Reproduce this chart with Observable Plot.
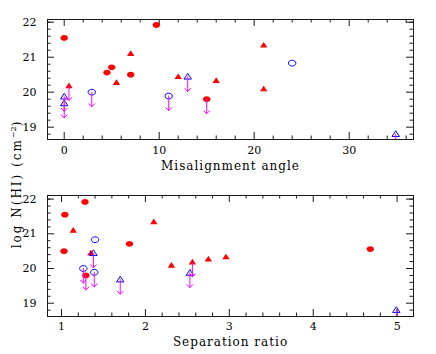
<!DOCTYPE html>
<html><head><meta charset="utf-8">
<script src="https://cdn.jsdelivr.net/npm/d3@7"></script>
<script src="https://cdn.jsdelivr.net/npm/@observablehq/plot@0.6"></script>
<style>
body{margin:0;background:#fff}
#wrap{position:relative;width:436px;height:354px;font-family:"DejaVu Serif",serif;overflow:hidden}
#wrap svg{display:block}
#wrap g[aria-label="text"]{letter-spacing:1px}
#ylab{position:absolute;left:17px;top:184px;transform:translate(-50%,-50%) rotate(-90deg);white-space:nowrap;font:12px "DejaVu Serif",serif;letter-spacing:2px;line-height:1;color:#000}
#ylab sup{font-size:8px;vertical-align:5px;line-height:0;letter-spacing:0}
</style></head><body>
<div id="wrap"><div id="ylab">log N(HI) (cm<sup>−2</sup>)</div></div>
<script>
// ---- data (one entry per object) ----
const misalignment    = [0, 9.7, 4.5, 5.0, 7.0, 15.0, 7.0, 5.5, 12.0, 16.0, 0.5, 21.0, 21.0, 2.9, 11.0, 24.0, 13.0, 0.0, 0.0, 34.9];
const separationRatio = [1.04, 1.28, 4.68, 1.81, 1.03, 1.29, 1.14, 2.75, 1.35, 2.96, 2.56, 2.10, 2.31, 1.26, 1.39, 1.40, 1.38, 2.53, 1.70, 4.99];
const logNHI          = [21.55, 21.92, 20.56, 20.71, 20.50, 19.80, 21.10, 20.27, 20.44, 20.33, 20.18, 21.34, 20.09, 20.00, 19.89, 20.83, 20.44, 19.87, 19.68, 18.80];
const markerKind      = ["filled circle","filled circle","filled circle","filled circle","filled circle","filled circle",
                         "filled triangle","filled triangle","filled triangle","filled triangle","filled triangle","filled triangle","filled triangle",
                         "open circle","open circle","open circle",
                         "open triangle","open triangle","open triangle","open triangle"];
const upperLimit      = [false,false,false,false,false,true, false,false,false,false,true,false,false, true,true,false, true,true,true,true];

// ---- axis ticks ----
const misMajor = [0, 10, 20, 30];
const misMinor = [2,4,6,8,12,14,16,18,22,24,26,28,32,34,36];
const ratioMajor = [1, 2, 3, 4, 5];
const ratioMinor = [1.2,1.4,1.6,1.8,2.2,2.4,2.6,2.8,3.2,3.4,3.6,3.8,4.2,4.4,4.6,4.8];
const nhiMajor = [19, 20, 21, 22];
const nhiMinor = [18.8,19.2,19.4,19.6,19.8,20.2,20.4,20.6,20.8,21.2,21.4,21.6,21.8,22.0];

const rows = misalignment.map((m, i) => ({mis: m, ratio: separationRatio[i], nhi: logNHI[i], kind: markerKind[i], limit: upperLimit[i]}));

const RED = "#ff0000", BLUE = "#0000ff", MAGENTA = "#ff00ff", INK = "#1a1a1a";
const ellipse = {draw(ctx) {
  const rx = 3.7, ry = 2.9, k = 0.5523;
  ctx.moveTo(rx, 0);
  ctx.bezierCurveTo(rx, ry*k, rx*k, ry, 0, ry);
  ctx.bezierCurveTo(-rx*k, ry, -rx, ry*k, -rx, 0);
  ctx.bezierCurveTo(-rx, -ry*k, -rx*k, -ry, 0, -ry);
  ctx.bezierCurveTo(rx*k, -ry, rx, -ry*k, rx, 0);
  ctx.closePath();
}};
const tri = {draw(ctx) { ctx.moveTo(0, -3.4); ctx.lineTo(3.7, 2.3); ctx.lineTo(-3.7, 2.3); ctx.closePath(); }};
const styles = [
  {kind: "filled circle", symbol: ellipse, fill: RED, stroke: "none"},
  {kind: "filled triangle", symbol: tri, fill: RED, stroke: "none"},
  {kind: "open circle", symbol: ellipse, fill: "none", stroke: BLUE},
  {kind: "open triangle", symbol: tri, fill: "none", stroke: BLUE}
];

function panel(o) {
  const W = 436, fw = W - o.ml - o.mr, fh = o.h - o.mt - o.mb;
  const MAJ = 7, MIN = 3.5;
  return Plot.plot({
    width: W, height: o.h,
    marginLeft: o.ml, marginRight: o.mr, marginTop: o.mt, marginBottom: o.mb,
    style: {fontFamily: "DejaVu Serif, serif", fontSize: "11px", background: "#fff", color: "#000"},
    x: {domain: o.xDomain},
    y: {domain: o.yDomain},
    marks: [
      Plot.tickX(o.xMinor, {x: d => d, insetTop: fh - MIN, stroke: INK}),
      Plot.tickX(o.xMinor, {x: d => d, insetBottom: fh - MIN, stroke: INK}),
      Plot.tickX(o.xMajor, {x: d => d, insetTop: fh - MAJ, stroke: INK}),
      Plot.tickX(o.xMajor, {x: d => d, insetBottom: fh - MAJ, stroke: INK}),
      Plot.tickY(o.yMinor, {y: d => d, insetRight: fw - MIN, stroke: INK}),
      Plot.tickY(o.yMinor, {y: d => d, insetLeft: fw - MIN, stroke: INK}),
      Plot.tickY(o.yMajor, {y: d => d, insetRight: fw - MAJ, stroke: INK}),
      Plot.tickY(o.yMajor, {y: d => d, insetLeft: fw - MAJ, stroke: INK}),
      Plot.axisX({ticks: o.xMajor, tickSize: 0, tickPadding: o.xPad, label: null, tickFormat: d => String(d)}),
      Plot.axisY({ticks: nhiMajor, tickSize: 0, tickPadding: 11, label: null, tickFormat: d => String(d)}),
      Plot.frame({stroke: INK}),
      ...styles.map(s => Plot.dot(rows.filter(r => r.kind === s.kind), {x: o.xField, y: "nhi", symbol: s.symbol, fill: s.fill, stroke: s.stroke, strokeWidth: 1})),
      Plot.vector(rows.filter(r => r.limit), {x: o.xField, y: "nhi", length: 14.5, rotate: 180, anchor: "start", stroke: MAGENTA, strokeWidth: 1, clip: true}),
      Plot.text([o.xLabel], {text: d => d, frameAnchor: "bottom", dy: o.labelDy, lineAnchor: "middle", fontSize: 12})
    ]
  });
}

const wrap = document.getElementById("wrap");
wrap.appendChild(panel({
  h: 180, ml: 47, mr: 23, mt: 19, mb: 41,
  xField: "mis", xDomain: [-1.76, 36.77], xMajor: misMajor, xMinor: misMinor,
  yDomain: [18.648, 22.077], yMajor: nhiMajor, yMinor: nhiMinor,
  xPad: 7, xLabel: "Misalignment angle", labelDy: 27
}));
wrap.appendChild(panel({
  h: 174, ml: 47, mr: 23, mt: 15, mb: 38,
  xField: "ratio", xDomain: [0.833, 5.195], xMajor: ratioMajor, xMinor: ratioMinor,
  yDomain: [18.617, 22.104], yMajor: nhiMajor, yMinor: nhiMinor,
  xPad: 6, xLabel: "Separation ratio", labelDy: 26
}));
</script>
</body></html>
